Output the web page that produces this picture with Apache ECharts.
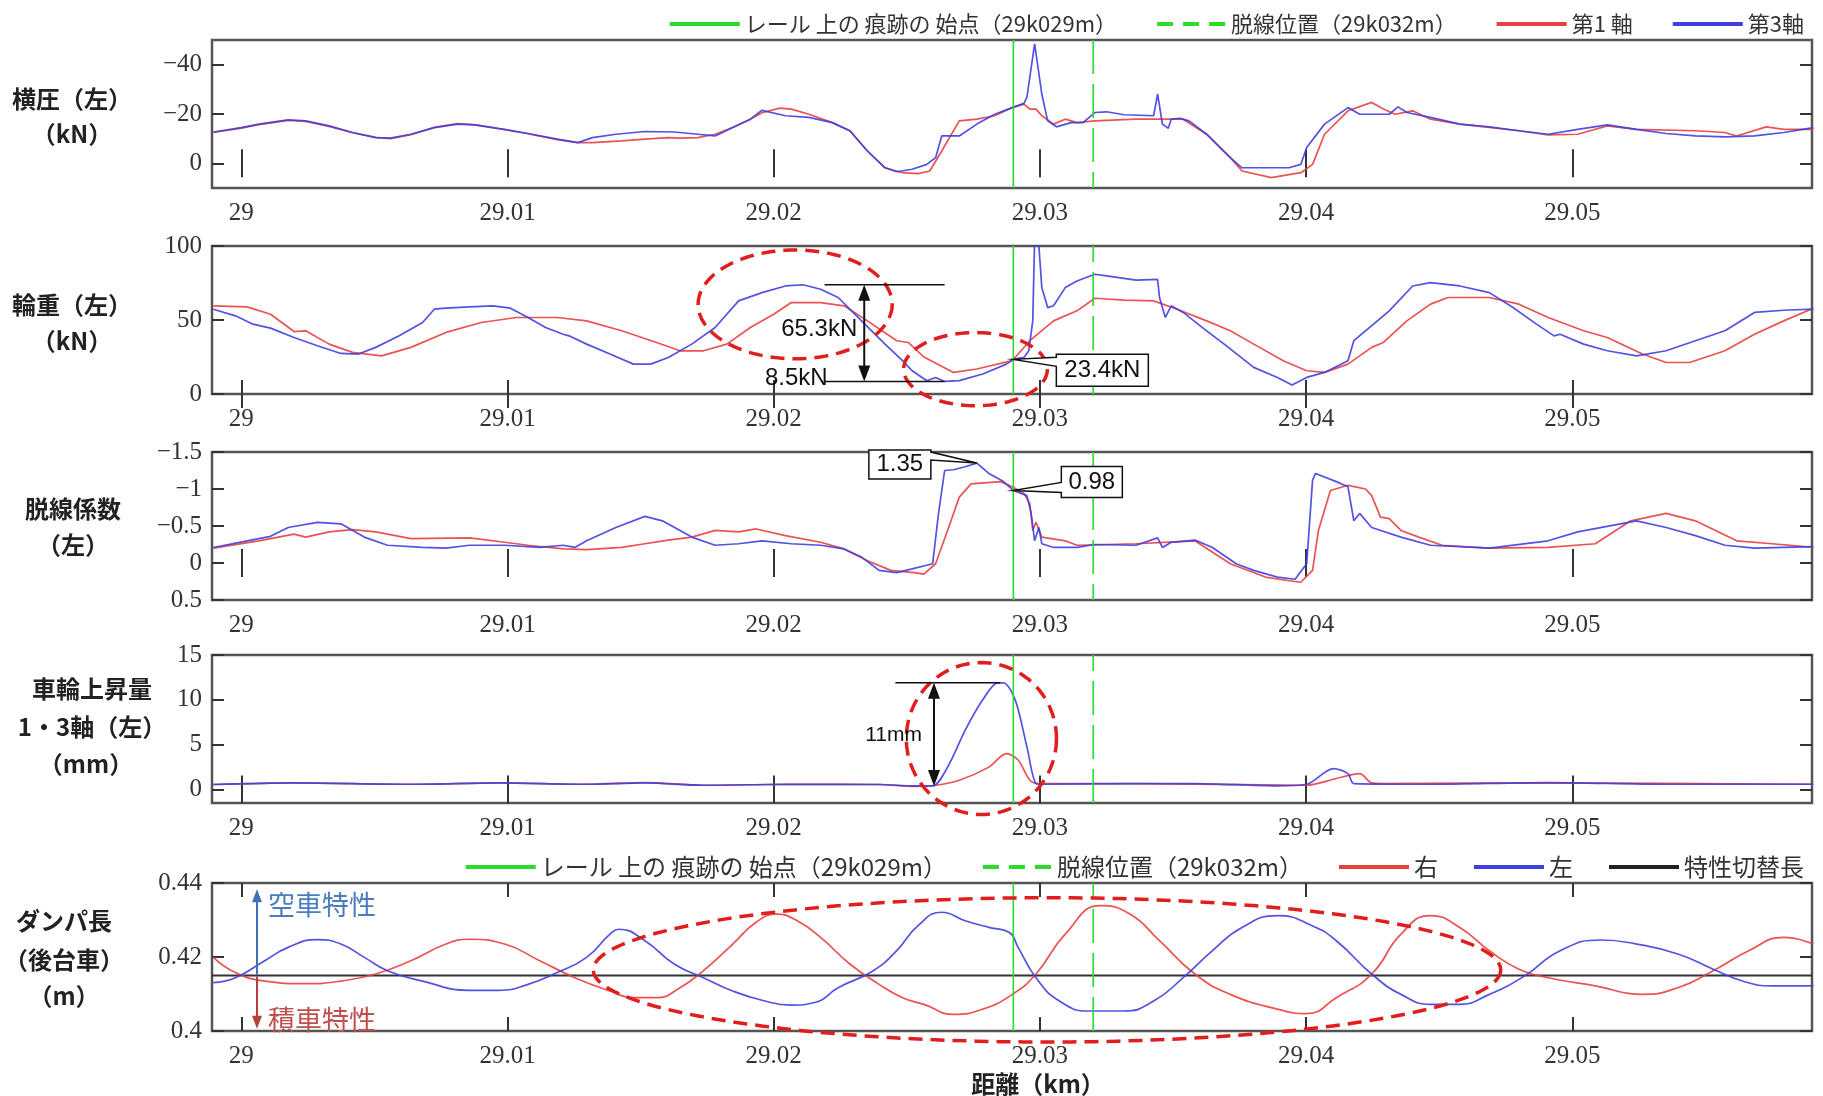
<!DOCTYPE html>
<html><head><meta charset="utf-8">
<script src="https://cdn.jsdelivr.net/npm/echarts@6.0.0/dist/echarts.min.js"></script>
<style>html,body{margin:0;padding:0;background:#fff;}#c{width:1823px;height:1096px;}</style>
</head><body><div id="c"></div>
<script>
// ---------------- data ----------------
const kmTicks = [29, 29.01, 29.02, 29.03, 29.04, 29.05];
const xMin = 28.9989, xMax = 29.0590;
const markStartKm = 29.029, derailKm = 29.032, switchLength = 0.415;
const lateralTicks = [-40, -20, 0];
const loadTicks = [0, 50, 100];
const derailTicks = [-1.5, -1, -0.5, 0, 0.5];
const liftTicks = [0, 5, 10, 15];
const damperTicks = [0.4, 0.42, 0.44];

const NAME_START = 'レール 上の 痕跡の 始点（29k029m）';
const NAME_DERAIL = '脱線位置（29k032m）';
const NAME_AX1 = '第1 軸', NAME_AX3 = '第3軸';
const NAME_R = '右', NAME_L = '左', NAME_SW = '特性切替長';

const lateralAxle3 = [[28.99895,-12.7],[29.0,-14.5],[29.00066,-15.9],[29.00176,-17.6],[29.00242,-17.2],[29.0033,-15.2],[29.00418,-12.5],[29.00505,-10.4],[29.0056,-10.2],[29.00637,-11.8],[29.00725,-14.5],[29.00813,-15.9],[29.00879,-15.6],[29.00989,-13.8],[29.01077,-12.1],[29.01187,-9.8],[29.01264,-8.4],[29.01319,-10.4],[29.01407,-11.8],[29.01516,-12.9],[29.01626,-12.7],[29.01714,-11.8],[29.0178,-11.1],[29.01846,-14.5],[29.01912,-17.9],[29.01956,-21.5],[29.02044,-19.3],[29.02132,-18.6],[29.0222,-16.5],[29.02286,-13.2],[29.02352,-5.0],[29.02418,1.8],[29.02462,3.4],[29.0252,2.4],[29.02575,0.4],[29.02608,-2.3],[29.02631,-11.1],[29.02697,-11.1],[29.02763,-15.9],[29.0283,-19.9],[29.02896,-22.6],[29.0294,-24.3],[29.02951,-26.7],[29.0298,-48.4],[29.03007,-28.1],[29.03029,-17.2],[29.03062,-14.8],[29.03117,-16.5],[29.03162,-16.5],[29.03206,-20.6],[29.0325,-20.9],[29.03316,-19.7],[29.03427,-19.3],[29.03442,-28.1],[29.0346,-15.9],[29.03482,-14.2],[29.03493,-17.9],[29.03526,-18.2],[29.0356,-17.2],[29.03626,-11.8],[29.03715,-2.3],[29.03759,1.8],[29.03936,1.8],[29.0398,0.4],[29.04002,-6.4],[29.04069,-15.9],[29.04157,-22.6],[29.04201,-19.9],[29.04246,-19.9],[29.04312,-19.9],[29.04345,-22.9],[29.04378,-20.6],[29.04467,-18.6],[29.04577,-15.9],[29.04688,-14.8],[29.04799,-13.2],[29.04909,-11.8],[29.0502,-13.8],[29.05131,-15.6],[29.05241,-13.8],[29.05352,-12.1],[29.05462,-11.1],[29.05573,-10.7],[29.05684,-11.1],[29.05794,-12.5],[29.05905,-14.5]];
const lateralAxle1 = [[28.99895,-12.5],[29.0,-14.3],[29.00066,-15.7],[29.00176,-17.4],[29.00242,-17.0],[29.0033,-15.0],[29.00418,-12.4],[29.00505,-10.5],[29.0056,-10.0],[29.00637,-11.6],[29.00725,-14.6],[29.00813,-16.1],[29.00879,-15.6],[29.00989,-13.6],[29.01077,-12.0],[29.01187,-9.6],[29.01264,-8.4],[29.01319,-8.4],[29.01429,-9.1],[29.01516,-9.8],[29.01604,-10.4],[29.01648,-10.2],[29.01714,-10.4],[29.0178,-11.8],[29.01846,-14.5],[29.01912,-17.9],[29.01956,-20.5],[29.02022,-22.4],[29.02066,-22.0],[29.02132,-19.9],[29.0222,-16.5],[29.02286,-13.2],[29.02352,-5.0],[29.02418,1.8],[29.02484,3.8],[29.02542,4.2],[29.02586,3.1],[29.02631,-5.0],[29.02697,-17.2],[29.02763,-17.9],[29.0283,-19.3],[29.02896,-22.6],[29.0294,-24.0],[29.02962,-22.0],[29.02985,-22.0],[29.03007,-19.3],[29.03051,-15.9],[29.03095,-17.9],[29.03139,-16.5],[29.03206,-17.2],[29.03361,-17.9],[29.03538,-17.9],[29.03626,-11.8],[29.03715,-2.3],[29.03759,3.1],[29.03869,5.8],[29.0398,3.8],[29.04024,0.4],[29.04069,-11.8],[29.04157,-21.3],[29.04246,-24.7],[29.0429,-22.0],[29.04334,-19.9],[29.044,-21.3],[29.04467,-17.9],[29.04577,-15.9],[29.04799,-13.2],[29.04909,-11.5],[29.0502,-11.8],[29.05131,-15.2],[29.05241,-13.8],[29.05462,-13.2],[29.05573,-12.5],[29.05617,-11.1],[29.05728,-14.8],[29.05794,-13.8],[29.05905,-13.8]];

const wheelLoadAxle3 = [[28.99895,57.3],[28.99978,52.8],[29.00044,47.2],[29.0011,44.5],[29.00198,38.2],[29.00286,32.6],[29.00374,27.4],[29.0044,27.0],[29.00505,31.5],[29.00593,39.3],[29.00681,48.3],[29.00725,57.3],[29.00769,58.0],[29.00857,58.9],[29.00945,59.6],[29.01011,58.0],[29.01077,51.7],[29.01143,44.9],[29.01209,40.4],[29.01231,39.3],[29.01297,33.7],[29.01385,27.0],[29.01473,20.2],[29.01538,20.2],[29.01604,24.7],[29.01692,33.7],[29.0178,44.9],[29.01868,62.9],[29.01956,68.5],[29.02044,73.0],[29.0211,73.8],[29.02176,70.8],[29.02242,65.2],[29.0233,49.4],[29.02418,33.7],[29.02484,22.5],[29.0252,15.7],[29.02575,9.0],[29.02608,11.2],[29.02642,8.5],[29.02697,9.0],[29.02785,13.5],[29.02874,20.2],[29.029,23.4],[29.0294,24.7],[29.02958,29.2],[29.02973,49.4],[29.0298,105],[29.02996,100],[29.03007,71.9],[29.03029,58.4],[29.03051,59.6],[29.03095,71.9],[29.03139,76.4],[29.03206,80.9],[29.0325,79.8],[29.03361,76.9],[29.03442,77.5],[29.03449,65.2],[29.03471,51.7],[29.03493,59.6],[29.03538,55.1],[29.03626,42.7],[29.03692,33.7],[29.03803,18.0],[29.03892,11.2],[29.03947,6.1],[29.04002,11.2],[29.04069,14.6],[29.04157,22.5],[29.04179,36.0],[29.04223,42.7],[29.04312,56.2],[29.044,73.0],[29.04467,75.3],[29.04577,73.0],[29.04688,68.5],[29.04777,58.4],[29.04865,47.2],[29.04931,39.3],[29.04954,40.4],[29.05042,33.7],[29.05131,29.2],[29.05241,25.8],[29.05352,29.2],[29.05462,36.0],[29.05573,42.7],[29.05684,55.1],[29.05794,56.6],[29.05905,57.3]];
const wheelLoadAxle1 = [[28.99895,59.6],[29.00022,58.9],[29.0011,53.9],[29.00198,42.2],[29.00242,42.7],[29.0033,33.7],[29.00418,28.1],[29.00527,25.8],[29.00637,31.5],[29.00769,41.6],[29.00901,48.3],[29.01033,51.7],[29.01187,51.7],[29.01297,49.4],[29.01429,42.7],[29.0156,34.8],[29.01648,29.2],[29.01736,29.2],[29.01824,33.7],[29.01912,44.9],[29.02,53.9],[29.02066,61.8],[29.02176,61.8],[29.02264,59.6],[29.02352,49.4],[29.02462,36.0],[29.02505,34.8],[29.02564,25.0],[29.02675,14.6],[29.02763,16.9],[29.02896,22.5],[29.02962,36.0],[29.03051,49.4],[29.03139,56.2],[29.03206,64.7],[29.03316,63.4],[29.03427,62.9],[29.03515,57.3],[29.03626,49.4],[29.03715,42.7],[29.03803,33.7],[29.03914,22.5],[29.04002,15.7],[29.04069,14.6],[29.04157,20.2],[29.04246,31.5],[29.0429,34.8],[29.04378,49.4],[29.04467,60.7],[29.04533,65.2],[29.04688,65.2],[29.04799,60.7],[29.04909,51.7],[29.05042,42.7],[29.05131,38.2],[29.05263,27.0],[29.05352,21.3],[29.0544,21.3],[29.05573,29.2],[29.05684,40.4],[29.05794,49.4],[29.05905,58.0]];

const derailAxle3 = [[28.99895,-0.21],[29.00022,-0.30],[29.0011,-0.36],[29.00176,-0.48],[29.00286,-0.55],[29.00374,-0.53],[29.00462,-0.35],[29.00549,-0.24],[29.00681,-0.21],[29.00769,-0.20],[29.00857,-0.24],[29.00989,-0.24],[29.01121,-0.21],[29.01209,-0.24],[29.01253,-0.21],[29.01297,-0.30],[29.01407,-0.48],[29.01516,-0.63],[29.01582,-0.57],[29.01692,-0.35],[29.0178,-0.24],[29.01868,-0.26],[29.01956,-0.30],[29.02066,-0.26],[29.02176,-0.24],[29.02264,-0.19],[29.0233,-0.08],[29.02396,0.10],[29.02462,0.13],[29.0252,0.08],[29.02597,0.01],[29.02619,-0.67],[29.02642,-1.25],[29.02675,-1.26],[29.02719,-1.30],[29.02763,-1.35],[29.02808,-1.21],[29.02863,-1.10],[29.029,-0.98],[29.02951,-0.91],[29.02967,-0.67],[29.0298,-0.30],[29.02996,-0.48],[29.03007,-0.26],[29.03051,-0.21],[29.03139,-0.21],[29.03206,-0.25],[29.03361,-0.24],[29.03442,-0.34],[29.0346,-0.21],[29.03493,-0.28],[29.03582,-0.31],[29.03648,-0.21],[29.03737,0.01],[29.03803,0.10],[29.03892,0.19],[29.03958,0.22],[29.04002,0.01],[29.04024,-1.12],[29.04035,-1.21],[29.04113,-1.10],[29.04157,-1.03],[29.04179,-0.57],[29.04201,-0.67],[29.04246,-0.48],[29.04356,-0.35],[29.04467,-0.24],[29.04688,-0.20],[29.04909,-0.30],[29.0502,-0.42],[29.05241,-0.57],[29.05352,-0.48],[29.05462,-0.37],[29.05573,-0.24],[29.05684,-0.20],[29.05905,-0.22]];
const derailAxle1 = [[28.99895,-0.20],[29.00066,-0.30],[29.00198,-0.39],[29.00242,-0.35],[29.0033,-0.42],[29.00418,-0.45],[29.00505,-0.42],[29.00637,-0.33],[29.00857,-0.34],[29.00989,-0.28],[29.01077,-0.24],[29.01209,-0.19],[29.01297,-0.18],[29.01429,-0.21],[29.01516,-0.26],[29.01604,-0.31],[29.01692,-0.35],[29.0178,-0.44],[29.01868,-0.42],[29.01934,-0.46],[29.02044,-0.37],[29.02176,-0.28],[29.02264,-0.19],[29.02352,-0.03],[29.0244,0.10],[29.02527,0.13],[29.02564,0.15],[29.02608,0.01],[29.02653,-0.44],[29.02697,-0.89],[29.02741,-1.07],[29.02852,-1.10],[29.02896,-1.03],[29.0294,-0.94],[29.02962,-0.80],[29.02973,-0.44],[29.02985,-0.55],[29.03007,-0.35],[29.03095,-0.30],[29.03139,-0.24],[29.03361,-0.26],[29.03582,-0.30],[29.03715,0.01],[29.03847,0.19],[29.03936,0.24],[29.0398,0.26],[29.04024,0.10],[29.04046,-0.44],[29.04091,-0.98],[29.04157,-1.05],[29.04223,-1.00],[29.04246,-0.91],[29.04279,-0.62],[29.04312,-0.60],[29.04356,-0.44],[29.04423,-0.35],[29.04511,-0.24],[29.04688,-0.20],[29.04909,-0.21],[29.05086,-0.26],[29.05219,-0.57],[29.05352,-0.67],[29.05462,-0.57],[29.05617,-0.30],[29.0575,-0.26],[29.05905,-0.21]];

const liftAxle3 = [[28.99895,0.56],[29.00198,0.74],[29.00637,0.59],[29.00967,0.74],[29.01297,0.59],[29.01516,0.74],[29.01736,0.48],[29.02066,0.59],[29.02396,0.56],[29.02527,0.40],[29.02597,0.41],[29.02653,2.5],[29.02719,6.6],[29.02785,10.0],[29.02841,11.9],[29.02863,11.9],[29.02907,10.0],[29.02951,4.76],[29.02985,0.67],[29.03007,0.59],[29.03361,0.67],[29.03582,0.67],[29.03892,0.41],[29.04002,0.59],[29.04102,2.34],[29.04157,1.78],[29.04179,0.67],[29.04467,0.59],[29.04909,0.78],[29.05352,0.59],[29.05905,0.59]];
const liftAxle1 = [[28.99895,0.56],[29.00198,0.74],[29.00637,0.59],[29.00967,0.74],[29.01297,0.59],[29.01516,0.78],[29.01736,0.48],[29.02066,0.59],[29.02396,0.56],[29.02527,0.35],[29.02608,0.48],[29.02697,1.04],[29.02808,2.5],[29.02874,4.0],[29.02918,3.3],[29.02962,1.04],[29.02996,0.67],[29.03361,0.67],[29.04002,0.48],[29.04113,1.23],[29.04201,1.78],[29.04246,0.74],[29.0429,0.67],[29.04909,0.74],[29.05905,0.59]];

const damperLeft = [[28.99895,0.4131],[28.99978,0.4144],[29.00088,0.4190],[29.00176,0.4226],[29.00286,0.4247],[29.00374,0.4235],[29.00462,0.4199],[29.00549,0.4163],[29.00681,0.4135],[29.00857,0.4110],[29.00967,0.4110],[29.01077,0.4126],[29.01187,0.4158],[29.01297,0.4199],[29.01385,0.4262],[29.01418,0.4275],[29.01516,0.4244],[29.01626,0.4181],[29.01736,0.4144],[29.01846,0.4108],[29.01956,0.4083],[29.02066,0.4070],[29.02154,0.4077],[29.02242,0.4117],[29.02374,0.4163],[29.02462,0.4217],[29.02542,0.4285],[29.02631,0.4321],[29.02719,0.4298],[29.02808,0.4280],[29.02885,0.4266],[29.02918,0.4226],[29.02985,0.4144],[29.03073,0.4081],[29.03184,0.4054],[29.03316,0.4054],[29.03427,0.4081],[29.03538,0.4144],[29.03648,0.4217],[29.03759,0.4280],[29.03892,0.4312],[29.04024,0.4284],[29.04113,0.4244],[29.04246,0.4154],[29.04356,0.4099],[29.04467,0.4072],[29.04577,0.4072],[29.04688,0.4099],[29.04821,0.4149],[29.04954,0.4217],[29.05108,0.4246],[29.05241,0.4235],[29.05396,0.4208],[29.05529,0.4167],[29.05639,0.4135],[29.0575,0.4122],[29.05905,0.4122]];
const damperRight = [[28.99895,0.4199],[28.99978,0.4158],[29.00088,0.4135],[29.00242,0.4128],[29.00374,0.4135],[29.00505,0.4154],[29.00637,0.4190],[29.00769,0.4235],[29.00857,0.4248],[29.00989,0.4235],[29.01121,0.4190],[29.01253,0.4144],[29.01385,0.4108],[29.01473,0.4090],[29.0156,0.4090],[29.01648,0.4117],[29.01736,0.4163],[29.01846,0.4235],[29.01934,0.4294],[29.02011,0.4316],[29.02088,0.4298],[29.02176,0.4253],[29.02286,0.4181],[29.02396,0.4126],[29.02484,0.4090],[29.02564,0.4072],[29.02675,0.4045],[29.02785,0.4059],[29.02896,0.4099],[29.02985,0.4154],[29.03095,0.4262],[29.03228,0.4339],[29.03338,0.4316],[29.03449,0.4244],[29.03582,0.4154],[29.03715,0.4099],[29.03892,0.4059],[29.04002,0.4047],[29.04113,0.4090],[29.04246,0.4154],[29.04356,0.4262],[29.04467,0.4312],[29.04577,0.4280],[29.04688,0.4217],[29.04799,0.4167],[29.04909,0.4144],[29.05086,0.4122],[29.05263,0.4099],[29.05396,0.4117],[29.05529,0.4163],[29.05662,0.4217],[29.05794,0.4253],[29.05905,0.4235]];

// ---------------- layout / style ----------------
const RED = '#e8403f', BLUE = '#3f3fe0', GREEN = '#2bdc2b';
const panels = [
  {top: 40,  min: -50, max: 10, inverse: true, ticks: lateralTicks, red: lateralAxle1, blue: lateralAxle3, rn: NAME_AX1, bn: NAME_AX3, smooth: false},
  {top: 246, min: 0, max: 100, inverse: false, ticks: loadTicks, red: wheelLoadAxle1, blue: wheelLoadAxle3, rn: NAME_AX1, bn: NAME_AX3, smooth: false},
  {top: 452, min: -1.5, max: 0.5, inverse: true, ticks: derailTicks, red: derailAxle1, blue: derailAxle3, rn: NAME_AX1, bn: NAME_AX3, smooth: false},
  {top: 655, min: -1.5, max: 15, inverse: false, ticks: liftTicks, red: liftAxle1, blue: liftAxle3, rn: NAME_AX1, bn: NAME_AX3, smooth: 0.3},
  {top: 883, min: 0.4, max: 0.44, inverse: false, ticks: damperTicks, red: damperRight, blue: damperLeft, rn: NAME_R, bn: NAME_L, smooth: 0.5}
];
const fmtNum = v => { const r = parseFloat(Number(v).toFixed(4)); return (r < 0 ? '\u2212' : '') + Math.abs(r); };
const tickStyle = {color: '#333', width: 2};

const grid = [], xAxis = [], yAxis = [], series = [];
panels.forEach((p, i) => {
  grid.push({left: 212, right: 11, top: p.top, height: 148, show: true, borderColor: '#555', borderWidth: 2.5, backgroundColor: '#fff'});
  const xBase = {type: 'value', gridIndex: i, min: xMin, max: xMax, splitLine: {show: false}, axisLine: {show: false}};
  xAxis.push(Object.assign({}, xBase, {position: 'bottom',
    axisTick: {inside: true, length: 14, lineStyle: tickStyle, customValues: kmTicks},
    axisLabel: {customValues: kmTicks, margin: 13, fontFamily: 'Liberation Serif', fontSize: 25, color: '#333', formatter: v => String(parseFloat(v.toFixed(2)))}}));
  xAxis.push(Object.assign({}, xBase, {position: 'top',
    axisTick: {inside: true, length: 14, lineStyle: tickStyle, customValues: kmTicks},
    axisLabel: {show: false}}));
  const yBase = {type: 'value', gridIndex: i, min: p.min, max: p.max, inverse: p.inverse, splitLine: {show: false}, axisLine: {show: false}};
  yAxis.push(Object.assign({}, yBase, {position: 'left',
    axisTick: {inside: true, length: 12, lineStyle: tickStyle, customValues: p.ticks},
    axisLabel: {customValues: p.ticks, margin: 10, fontFamily: 'Liberation Serif', fontSize: 25, color: '#333', formatter: fmtNum}}));
  yAxis.push(Object.assign({}, yBase, {position: 'right',
    axisTick: {inside: true, length: 12, lineStyle: tickStyle, customValues: p.ticks},
    axisLabel: {show: false}}));
  const base = {type: 'line', xAxisIndex: 2 * i, yAxisIndex: 2 * i, symbol: 'none', showSymbol: false, clip: true, silent: true};
  series.push(Object.assign({}, base, {smooth: p.smooth, name: p.rn, data: p.red, z: 2, itemStyle: {color: RED}, lineStyle: {color: RED, width: 1.7, opacity: 0.9}}));
  series.push(Object.assign({}, base, {smooth: p.smooth, name: p.bn, data: p.blue, z: 2, itemStyle: {color: BLUE}, lineStyle: {color: BLUE, width: 1.7, opacity: 0.9}}));
  if (i === 4) {
    series.push(Object.assign({}, base, {name: NAME_SW, data: [[xMin, switchLength], [xMax, switchLength]], z: 1, itemStyle: {color: '#222'}, lineStyle: {color: '#333', width: 2}}));
  }
  series.push(Object.assign({}, base, {name: NAME_START, data: [[markStartKm, p.min], [markStartKm, p.max]], z: 3, itemStyle: {color: GREEN}, lineStyle: {color: GREEN, width: 1.6}}));
  series.push(Object.assign({}, base, {name: NAME_DERAIL, data: [[derailKm, p.min], [derailKm, p.max]], z: 3, itemStyle: {color: GREEN}, lineStyle: {color: GREEN, width: 1.6, type: [34, 10]}}));
});

const DASH_ICON = 'path://M0,0h16v4h-16z M26,0h16v4h-16z M52,0h16v4h-16z';
const legendCommon = {
  selectedMode: false, itemWidth: 70, itemHeight: 4, itemGap: 40, icon: 'rect',
  textStyle: {fontSize: 22, color: '#333', fontFamily: 'Noto Sans CJK JP'}
};
const dashedItem = {name: NAME_DERAIL, icon: DASH_ICON};
const option = {
  animation: false,
  backgroundColor: '#fff',
  grid, xAxis, yAxis, series,
  legend: [
    Object.assign({}, legendCommon, {right: 14, top: 8, data: [NAME_START, dashedItem, NAME_AX1, NAME_AX3]}),
    Object.assign({}, legendCommon, {right: 14, top: 850, itemGap: 36, textStyle: {fontSize: 24, color: '#333', fontFamily: 'Noto Sans CJK JP'}, data: [NAME_START, dashedItem, NAME_R, NAME_L, NAME_SW]})
  ]
};

const chart = echarts.init(document.getElementById('c'));
chart.setOption(option);

// ---------------- annotations ----------------
const P = (i, x, y) => chart.convertToPixel({xAxisIndex: 2 * i, yAxisIndex: 2 * i}, [x, y]);
const g = [];
const titleFont = 'bold 24px "Noto Sans CJK JP"';
const titles = [
  ['横圧（左）', 72, 99], ['（kN）', 72, 134],
  ['輪重（左）', 72, 305], ['（kN）', 72, 341],
  ['脱線係数', 73, 509], ['（左）', 73, 545],
  ['車輪上昇量', 92, 689], ['1・3軸（左）', 92, 727], ['（mm）', 86, 764],
  ['ダンパ長', 64, 921], ['（後台車）', 64, 960], ['（m）', 64, 996],
  ['距離（km）', 1038, 1084]
];
titles.forEach(t => g.push({type: 'text', x: t[1], y: t[2], z: 100,
  style: {text: t[0], font: titleFont, fill: '#222', align: 'center', verticalAlign: 'middle'}}));

function ellipse(i, x1, x2, y1, y2) {
  const a = P(i, x1, y1), b = P(i, x2, y2);
  const cx = (a[0] + b[0]) / 2, cy = (a[1] + b[1]) / 2, rx = Math.abs(b[0] - a[0]) / 2, ry = Math.abs(b[1] - a[1]) / 2;
  const pts = [];
  for (let k = 0; k < 120; k++) { const t = k / 120 * Math.PI * 2; pts.push([cx + rx * Math.cos(t), cy + ry * Math.sin(t)]); }
  g.push({type: 'polygon', z: 90, shape: {points: pts}, style: {fill: null, stroke: '#e01e1e', lineWidth: 3.5, lineDash: [14, 8]}});
}
ellipse(1, 29.01716, 29.02445, 97.3, 23.8);
ellipse(1, 29.02488, 29.03028, 41.5, -7.9);
ellipse(3, 29.02498, 29.03062, 14.16, -2.78);
ellipse(4, 29.01322, 29.04731, 0.43602, 0.39702);

function head(x, y, dir, color, hw, hl) {
  g.push({type: 'polygon', z: 101, shape: {points: [[x, y], [x - hw, y - dir * hl], [x + hw, y - dir * hl]]}, style: {fill: color}});
}
function vArrow(x, yFrom, yTo, color, both, lw, hw, hl) {
  const dir = Math.sign(yTo - yFrom);
  const a = both ? yFrom + dir * hl * 0.8 : yFrom;
  const b = yTo - dir * hl * 0.8;
  g.push({type: 'line', z: 101, shape: {x1: x, y1: a, x2: x, y2: b}, style: {stroke: color, lineWidth: lw}});
  head(x, yTo, dir, color, hw, hl);
  if (both) head(x, yFrom, -dir, color, hw, hl);
}
function hLine(i, xa, xb, y) {
  const a = P(i, xa, y), b = P(i, xb, y);
  g.push({type: 'line', z: 100, shape: {x1: a[0], y1: a[1], x2: b[0], y2: b[1]}, style: {stroke: '#111', lineWidth: 1.5}});
}
function label(x, y, text, font, fill, align) {
  g.push({type: 'text', x, y, z: 102, style: {text, font, fill, align: align || 'center', verticalAlign: 'middle'}});
}

// wheel load 65.3kN
hLine(1, 29.02191, 29.02642, 73.8);
hLine(1, 29.02191, 29.02642, 8.5);
{
  const t = P(1, 29.0234, 73.8), b = P(1, 29.0234, 8.5);
  vArrow(t[0], t[1], b[1], '#111', true, 2, 6, 16);
  const m = P(1, 29.0234, 44);
  label(t[0] - 7, m[1], '65.3kN', '24px "Liberation Sans"', '#111', 'right');
  const l = P(1, 29.02191, 8.5);
  label(l[0] + 3, l[1] - 3, '8.5kN', '24px "Liberation Sans"', '#111', 'right');
}
// wheel lift 11mm
hLine(3, 29.02457, 29.02851, 11.9);
{
  const t = P(3, 29.02602, 11.9), b = P(3, 29.02602, 0.4);
  vArrow(t[0], t[1], b[1], '#111', true, 2, 6, 16);
  const m = P(3, 29.02602, 6.1);
  label(t[0] - 12, m[1], '11mm', '21px "Liberation Sans"', '#111', 'right');
}
// callouts
function callout(i, x, y, text, side, dx, dy, w, h, b1, b2) {
  const tip = P(i, x, y);
  const T = tip[1] + dy;
  let pts, L, R;
  if (side === 'right') {
    L = tip[0] + dx; R = L + w;
    pts = [[L, T], [R, T], [R, T + h], [L, T + h], [L, T + b2], tip, [L, T + b1]];
  } else {
    R = tip[0] - dx; L = R - w;
    pts = [[L, T], [R, T], [R, T + b1], tip, [R, T + b2], [R, T + h], [L, T + h]];
  }
  g.push({type: 'polygon', z: 103, shape: {points: pts}, style: {fill: '#fff', stroke: '#111', lineWidth: 1.5}});
  g.push({type: 'text', x: (L + R) / 2, y: T + h / 2, z: 104, style: {text, font: '24px "Liberation Sans"', fill: '#111', align: 'center', verticalAlign: 'middle'}});
}
callout(1, 29.029, 23.4, '23.4kN', 'right', 43, -5, 92, 32, 3, 12);
callout(2, 29.02763, -1.35, '1.35', 'left', 46, -13, 62, 29, 2, 10);
callout(2, 29.029, -0.98, '0.98', 'right', 48, -24, 61, 31, 16, 26);

// damper characteristic arrows
{
  const o = P(4, 29.00059, switchLength), up = P(4, 29.00059, 0.4383), dn = P(4, 29.00059, 0.4006);
  vArrow(o[0], o[1] - 1, up[1], '#3d72b8', false, 2, 5, 13);
  vArrow(o[0], o[1] + 1, dn[1], '#b5413e', false, 2, 5, 13);
  const tu = P(4, 29.00059, 0.4341), td = P(4, 29.00059, 0.4030);
  label(o[0] + 11, tu[1], '空車特性', '27px "Noto Sans CJK JP"', '#4a7cc0', 'left');
  label(o[0] + 11, td[1], '積車特性', '27px "Noto Sans CJK JP"', '#c0504d', 'left');
}

chart.setOption({graphic: {elements: g}});
</script></body></html>
